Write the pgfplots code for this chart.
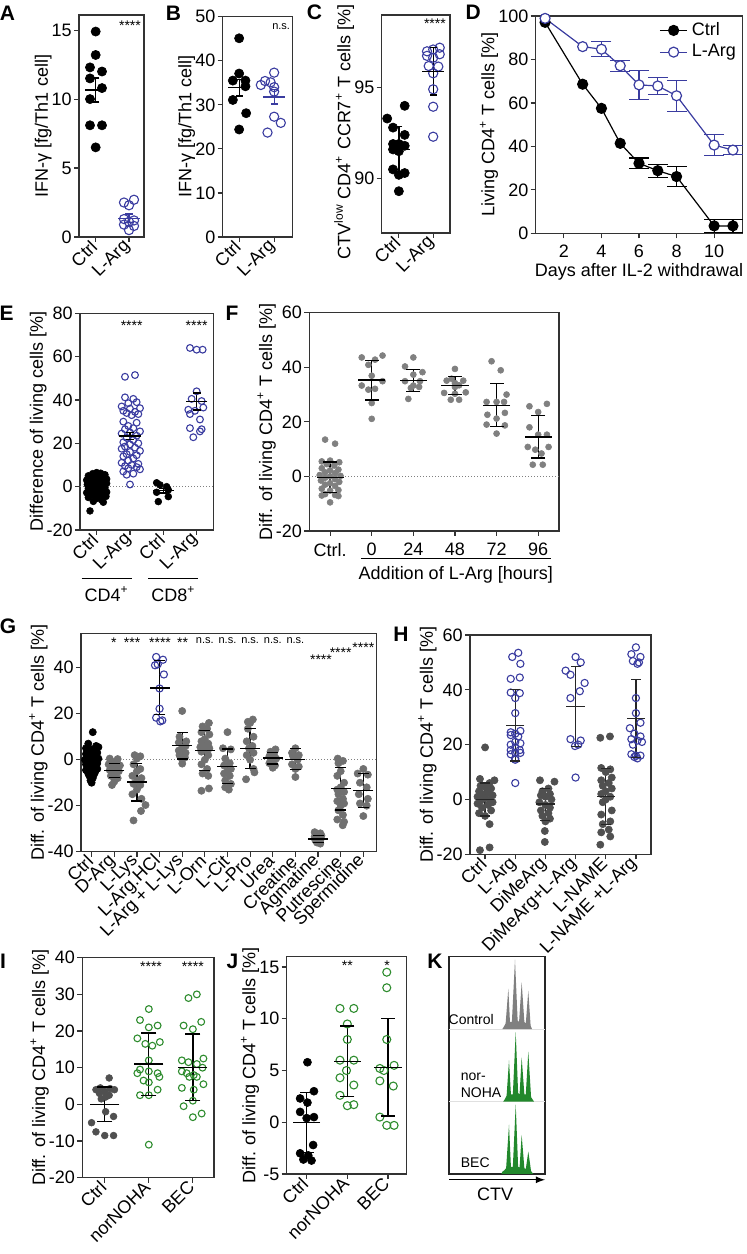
\documentclass[border=0pt]{standalone}
\usepackage{fontspec}
\setmainfont{Liberation Sans}
\usepackage{pgfplots}
\pgfplotsset{compat=1.18}
\definecolor{argblue}{RGB}{58,60,160}
\definecolor{nogreen}{RGB}{46,140,46}
\definecolor{fgray}{RGB}{128,128,128}
\definecolor{ggray}{RGB}{112,112,112}
\definecolor{dgray}{RGB}{80,80,80}
\definecolor{hgreen}{RGB}{34,136,44}
\newcommand{\fs}{\fontsize{9}{10.5}\selectfont}
\newcommand{\sfs}{\fontsize{7}{8}\selectfont}
\newcommand{\nfs}{\fontsize{5.5}{6.5}\selectfont}
\pgfplotsset{
 panel/.style={
   scale only axis, clip=false,
   axis line style={line width=0.6pt, black!80},
   tick style={line width=0.6pt, black!80},
   major tick length=2.5pt, tick align=outside,
   xtick pos=left, ytick pos=left,
   tick label style={font=\fs},
   label style={font=\fs},
   ylabel style={yshift=-4.5pt},
   /pgf/number format/assume math mode=true,
   yticklabel style={inner sep=1pt},
 },
 rot/.style={xticklabel style={rotate=45, anchor=east, inner sep=1pt}},
 dots/.style 2 args={only marks, mark=*, mark size=#2, mark options={draw=#1, fill=#1, line width=0.3pt}},
 rings/.style 2 args={only marks, mark=o, mark size=#2, mark options={draw=#1, fill=none, line width=0.55pt}},
 mbar/.style 2 args={only marks, color=#1, mark=-, mark size=#2, mark options={line width=0.65pt, draw=#1},
   error bars/.cd, y dir=both, y explicit, error mark=none,
   error bar style={line width=0.65pt, draw=#1}},
 caps/.style 2 args={only marks, mark=-, mark size=#2, mark options={line width=0.65pt, draw=#1}},
}
\begin{document}
\begin{tikzpicture}
\useasboundingbox (0,0) rectangle (373pt,627pt);
% panel letters
\begin{scope}[every node/.style={font=\bfseries\fontsize{10.5}{12}\selectfont}]
\node at (3.75pt,620.25pt) {A};
\node at (86.75pt,620.25pt) {B};
\node at (157.25pt,621pt) {C};
\node at (236.65pt,621pt) {D};
\node at (3.35pt,470.35pt) {E};
\node at (116pt,470.5pt) {F};
\node at (4pt,314pt) {G};
\node at (200.5pt,310pt) {H};
\node at (1.5pt,146.5pt) {I};
\node at (116.25pt,146.25pt) {J};
\node at (217.5pt,146.25pt) {K};
\end{scope}

% ---------------- A
\begin{axis}[panel, rot, at={(39.5pt,508.5pt)}, anchor=south west, width=32.5pt, height=111pt,
  xmin=-0.5, xmax=1.45, ymin=0, ymax=16.1, ytick={0,5,10,15},
  xtick={0,1}, xticklabels={Ctrl, L-Arg}, ylabel={IFN-γ [fg/Th1 cell]}]
\addplot[dots={black}{2.3pt}] coordinates {(0,14.9) (0,13.2) (-0.17,12.3) (0.19,12.0) (-0.17,11.5) (0.19,10.8) (-0.17,10.0) (-0.17,8.1) (0.19,8.1) (0,6.5)};
\addplot[rings={argblue}{2.3pt}] coordinates {(0.85,2.5) (1.15,2.7) (1.0,2.3) (0.85,1.3) (1.15,1.2) (1.0,1.1) (0.85,0.9) (1.15,0.8) (1.0,0.5)};
\addplot[mbar={black}{5.4pt}] coordinates {(0,10.66) +- (0,0.87)};
\addplot[caps={black}{1.8pt}] coordinates {(0,11.53) (0,9.79)};
\addplot[mbar={argblue}{5.4pt}] coordinates {(1,1.36) +- (0,0.31)};
\addplot[caps={argblue}{1.8pt}] coordinates {(1,1.67) (1,1.05)};
\node[font=\sfs] at (axis cs:1.03,15.3) {****};
\end{axis}

% ---------------- B
\begin{axis}[panel, rot, at={(111.35pt,508.5pt)}, anchor=south west, width=35pt, height=110.15pt,
  xmin=-0.47, xmax=1.53, ymin=0, ymax=50, ytick={0,10,20,30,40,50},
  xtick={0,1}, xticklabels={Ctrl, L-Arg}, ylabel={IFN-γ [fg/Th1 cell]}]
\addplot[dots={black}{2.3pt}] coordinates {(0,45.1) (0,37.1) (-0.18,35.5) (0.18,35.5) (0.18,34.2) (-0.18,31.1) (0.2,28.1) (0,24.4)};
\addplot[rings={argblue}{2.3pt}] coordinates {(0.62,34.5) (0.74,35.4) (1.0,37.3) (0.9,35.1) (1.0,34.0) (1.0,33.0) (1.0,27.3) (1.19,25.9) (0.81,23.7)};
\addplot[mbar={black}{5.4pt}] coordinates {(0,33.9) +- (0,1.9)};
\addplot[caps={black}{1.8pt}] coordinates {(0,35.8) (0,32.0)};
\addplot[mbar={argblue}{5.4pt}] coordinates {(1,31.8) +- (0,1.6)};
\addplot[caps={argblue}{1.8pt}] coordinates {(1,33.4) (1,30.2)};
\node[font=\nfs] at (axis cs:1.2,47.8) {n.s.};
\end{axis}

% ---------------- C
\begin{axis}[panel, rot, at={(190.85pt,510.5pt)}, anchor=south west, width=34.15pt, height=109pt,
  xmin=-0.5, xmax=1.49, ymin=87, ymax=99, ytick={90,95},
  xtick={0,1}, xticklabels={Ctrl, L-Arg},
  ylabel={CTV\textsuperscript{low} CD4\textsuperscript{+} CCR7\textsuperscript{+} T cells [\%]},
  ylabel style={xshift=-4pt}]
\addplot[dots={black}{2.3pt}] coordinates {(-0.34,93.3) (0.17,94.0) (-0.17,92.8) (0.17,92.4) (-0.17,91.9) (0,91.9) (0.17,91.8) (-0.17,91.6) (0,91.5) (-0.17,90.5) (0.17,90.3) (0,90.2) (0,89.3)};
\addplot[rings={argblue}{2.3pt}] coordinates {(0.82,97.0) (1.0,97.1) (1.19,97.2) (0.82,96.75) (1.0,96.65) (1.19,96.84) (0.87,96.19) (1.15,96.16) (1.0,95.79) (1.0,94.91) (1.0,93.95) (1.0,92.3)};
\addplot[mbar={black}{5.4pt}] coordinates {(0,91.6) +- (0,1.25) (1,95.9) +- (0,1.3)};
\addplot[caps={black}{1.8pt}] coordinates {(0,92.85) (0,90.35) (1,97.2) (1,94.6)};
\node[font=\sfs] at (axis cs:1.05,98.5) {****};
\end{axis}

% ---------------- D
\begin{axis}[panel, at={(267.85pt,510.35pt)}, anchor=south west, width=103.3pt, height=108.65pt,
  xmin=0.5, xmax=11.5, ymin=0, ymax=100, xtick={2,4,6,8,10}, ytick={0,20,40,60,80,100},
  xlabel={Days after IL-2 withdrawal}, ylabel={Living CD4\textsuperscript{+} T cells [\%]},
  xlabel style={yshift=4pt},
  legend style={draw=none, fill=none, at={(1,1)}, anchor=north east, font=\fs, inner sep=1pt, row sep=-1pt},
  legend cell align=left,
  legend image code/.code={\draw[mark repeat=2,mark phase=2] plot coordinates {(0cm,0cm) (0.24cm,0cm) (0.48cm,0cm)};}]
\addplot[only marks, mark=none, forget plot, error bars/.cd, y dir=both, y explicit, error mark=none,
  error bar style={line width=0.6pt, draw=black}]
  coordinates {(6,32.2) +- (0,2.5) (7,28.8) +- (0,3) (8,26.1) +- (0,4.7) (10,3.4) +- (0,3) (11,3.4) +- (0,3)};
\addplot[caps={black}{5pt}, forget plot] coordinates {(6,34.7) (6,29.7) (7,31.8) (7,25.8) (8,30.8) (8,21.4) (10,6.4) (10,0.4) (11,6.4) (11,0.4)};
\addplot[only marks, mark=none, forget plot, error bars/.cd, y dir=both, y explicit, error mark=none,
  error bar style={line width=0.6pt, draw=argblue}]
  coordinates {(4,84.7) +- (0,3.5) (5,77.1) +- (0,2.5) (6,68.3) +- (0,6.7) (7,67.8) +- (0,3.8) (8,63.3) +- (0,7.1) (10,40.6) +- (0,4.8) (11,38.3) +- (0,2)};
\addplot[caps={argblue}{5pt}, forget plot] coordinates {(4,88.2) (4,81.2) (5,79.6) (5,74.6) (6,75.0) (6,61.6) (7,71.6) (7,64.0) (8,70.4) (8,56.2) (10,45.4) (10,35.8) (11,40.3) (11,36.3)};
\addplot[black, line width=0.6pt, mark=*, mark size=2.5pt, mark options={fill=black}] coordinates {(1,97.1) (3,68.6) (4,57.5) (5,41.4) (6,32.2) (7,28.8) (8,26.1) (10,3.4) (11,3.4)};
\addlegendentry{Ctrl}
\addplot[argblue, line width=0.6pt, mark=*, mark size=2.5pt, mark options={fill=white, draw=argblue}] coordinates {(1,98.9) (3,85.9) (4,84.7) (5,77.1) (6,68.3) (7,67.8) (8,63.3) (10,40.6) (11,38.3)};
\addlegendentry{L-Arg}
\end{axis}

% ---------------- E
\begin{axis}[panel, rot, at={(40pt,362pt)}, anchor=south west, width=66.65pt, height=108.35pt,
  xmin=-0.5, xmax=3.5, ymin=-20, ymax=80, ytick={-20,0,20,40,60,80},
  xtick={0,1,2,3}, xticklabels={Ctrl, L-Arg, Ctrl, L-Arg}, ylabel={Difference of living cells [\%]}]
\draw[densely dotted, gray, line width=0.5pt] (axis cs:-0.5,0) -- (axis cs:3.5,0);
\addplot[dots={black}{1.7pt}] coordinates {(0,6.5) (-0.12,6) (0.12,6.2) (0.25,5.5) (-0.25,5) (0,4.8) (0.12,4) (-0.12,3.8) (0.3,3.5) (-0.3,3) (0,2.8) (0.15,2) (-0.15,1.8) (0.3,1.5) (-0.28,1) (0,0.8) (0.12,0.2) (-0.12,0) (0.25,-0.5) (-0.25,-0.8) (0,-1.2) (0.12,-1.8) (-0.12,-2) (0.3,-2.5) (-0.3,-2.8) (0,-3.2) (0.15,-3.8) (-0.15,-4) (0.28,-4.5) (-0.25,-5) (0,-5.5) (0.15,-6.2) (-0.1,-6.8) (0.2,-7.2) (-0.2,-11.2)
 (1.8,1.8) (1.9,0.8) (2.1,0) (2.15,-1.5) (1.8,-2.6) (2.15,-4.6) (1.85,-6.9)};
\addplot[rings={argblue}{1.7pt}] coordinates {(0.85,50.7) (1.15,51.5) (0.85,41.2) (1.1,40.5) (1.2,39) (0.95,38.5) (0.75,37) (1.3,36.2) (1.0,36) (0.8,35) (1.15,34.5) (0.9,34) (1.25,33.5) (1.05,33) (0.8,30) (1.2,29.5) (0.95,28) (1.1,27) (0.85,26.5) (1.3,25.5) (1.0,25) (0.75,24.5) (1.2,23.5) (0.9,22.5) (1.1,21.5) (0.8,20.5) (1.25,20) (1.0,19.5) (0.85,18.5) (1.15,18) (0.75,17.5) (1.3,16.5) (1.0,16) (0.9,15) (1.2,14.5) (0.8,14) (1.1,13) (0.95,12) (0.75,11) (1.25,10.5) (1.05,10) (0.85,9.5) (1.2,9) (0.95,8.5) (1.3,8) (0.8,7) (1.1,6) (0.9,5.5) (1.0,1)
 (2.8,64) (3.0,63.2) (3.18,63.2) (3.0,44) (2.85,40.5) (3.15,39.5) (3.2,36.5) (2.75,35.5) (2.95,35) (2.8,33.5) (3.1,31) (2.8,27) (3.15,26.5) (3.1,25.5) (2.9,22.8)};
\addplot[mbar={black}{5.4pt}] coordinates {(0,0) +- (0,0.9) (1,23.4) +- (0,1.7) (2,-1.85) +- (0,1.1) (3,39.3) +- (0,3.9)};
\addplot[caps={black}{2pt}] coordinates {(0,0.9) (0,-0.9) (1,25.1) (1,21.7) (2,-0.75) (2,-2.95) (3,43.2) (3,35.4)};
\node[font=\sfs] at (axis cs:1.05,74.5) {****};
\node[font=\sfs] at (axis cs:3.0,74.5) {****};
\draw[line width=0.6pt] (axis cs:-0.45,-42.5) -- (axis cs:1.05,-42.5);
\draw[line width=0.6pt] (axis cs:1.55,-42.5) -- (axis cs:3.05,-42.5);
\node[font=\fs, anchor=north] at (axis cs:0.3,-43) {CD4\textsuperscript{+}};
\node[font=\fs, anchor=north] at (axis cs:2.3,-43) {CD8\textsuperscript{+}};
\end{axis}

% ---------------- F
\begin{axis}[panel, at={(154.65pt,361.5pt)}, anchor=south west, width=124.85pt, height=109.15pt,
  xmin=-0.5, xmax=5.5, ymin=-20, ymax=60, ytick={-20,0,20,40,60},
  xtick={0,1,2,3,4,5}, xticklabels={Ctrl., 0, 24, 48, 72, 96},
  ylabel={Diff. of living CD4\textsuperscript{+} T cells [\%]}]
\draw[densely dotted, gray, line width=0.5pt] (axis cs:-0.5,0) -- (axis cs:5.5,0);
\addplot[dots={fgray}{1.5pt}] coordinates {(-0.12,13.5) (0.12,12) (0,5.8) (-0.2,5.5) (0.22,5.2) (-0.08,4.5) (0.1,4) (-0.2,3) (0.2,2.5) (0,2.2) (-0.12,1.5) (0.12,1.2) (-0.25,0.5) (0.25,0.2) (0,0) (-0.12,-0.5) (0.12,-1) (-0.22,-1.5) (0.22,-2) (0,-2.5) (-0.12,-3) (0.12,-3.5) (-0.2,-4.5) (0.2,-5) (0,-5.2) (-0.12,-6.5) (0.12,-6.8) (-0.2,-7) (0.2,-7.2) (0,-9.5)
 (0.76,43.6) (1.26,44.3) (1.08,42.8) (0.92,40.9) (1.0,36.9) (0.76,33.3) (1.08,32.1) (0.92,31.8) (1.26,34.9) (1.0,26.9) (1.0,21.1)
 (2.0,43.6) (1.8,40.3) (2.22,38.2) (2.0,37.3) (1.8,34.9) (2.16,34.9) (2.0,33.3) (1.94,32.4) (2.14,32.8) (1.88,28.4)
 (3.0,39.4) (2.8,35.1) (3.2,35.1) (3.0,34.2) (2.92,35.8) (3.1,33.4) (2.74,30.6) (3.0,30.3) (3.26,30.8) (2.9,28.1) (3.1,28.1) (3.0,32.8)
 (3.88,42.2) (4.1,38.9) (4.24,30.0) (3.76,27.3) (4.0,27.3) (4.18,27.3) (3.78,22.6) (4.0,21.2) (4.2,23.3) (3.76,19.0) (4.2,18.7) (4.0,15.7)
 (4.79,25.7) (5.21,26.6) (5.0,23.6) (4.79,18.0) (5.0,15.3) (5.21,15.3) (4.75,10.8) (5.25,10.8) (4.93,9.8) (5.08,8.4) (4.87,4.3) (5.11,4.3)};
\addplot[mbar={black}{6.8pt}] coordinates {(0,-0.3) +- (0,5.6) (1,35.3) +- (0,7.3) (2,35.2) +- (0,4.1) (3,33.2) +- (0,3.3) (4,26.1) +- (0,7.9) (5,14.5) +- (0,7.7)};
\addplot[caps={black}{3.5pt}] coordinates {(0,5.3) (0,-5.9) (1,42.6) (1,28.0) (2,39.3) (2,31.1) (3,36.5) (3,29.9) (4,34.0) (4,18.2) (5,22.2) (5,6.8)};
\draw[line width=0.6pt] (axis cs:0.74,-30) -- (axis cs:5.32,-30);
\node[font=\fs, anchor=north] at (axis cs:3.02,-30.4) {Addition of L-Arg [hours]};
\end{axis}

% ---------------- G
\begin{axis}[panel, rot, at={(40.5pt,201.15pt)}, anchor=south west, width=147.85pt, height=109.2pt,
  xmin=-0.47, xmax=12.59, ymin=-40, ymax=55, ytick={-40,-20,0,20,40},
  xtick={0,...,12}, xticklabels={Ctrl, D-Arg, L-Lys, L-Arg.HCl, L-Arg + L-Lys, L-Orn, L-Cit, L-Pro, Urea, Creatine, Agmatine, Putrescine, Spermidine},
  ylabel={Diff. of living CD4\textsuperscript{+} T cells [\%]}]
\draw[densely dotted, gray, line width=0.5pt] (axis cs:-0.47,0) -- (axis cs:12.59,0);
\addplot[dots={black}{1.8pt}] coordinates {(0.05,12) (-0.15,7) (0.2,6) (0.3,5.5) (-0.25,5) (0,4.5) (0.15,4) (-0.15,3.5) (0.25,3) (-0.25,2.5) (0,2) (0.15,1.5) (-0.15,1) (0.3,0.5) (-0.3,0) (0,0) (0.15,-0.5) (-0.15,-1) (0.25,-1.5) (-0.25,-2) (0,-2.5) (0.15,-3) (-0.15,-3.5) (0.25,-4) (-0.25,-4.5) (0,-5) (0.15,-5.5) (-0.15,-6) (0.1,-6.5) (-0.1,-7) (0.05,-8) (-0.05,-9) (0,-10)};
\addplot[dots={ggray}{1.8pt}] coordinates {(0.8,0.5) (1.15,0.3) (1.0,-1) (0.75,-2) (1.25,-2.5) (0.9,-3) (1.1,-3.5) (0.8,-4.5) (1.2,-5) (1.0,-6) (0.85,-7) (1.15,-8) (1.0,-9.5) (0.9,-11)
 (1.9,2) (2.15,1.5) (2.0,0.5) (1.85,-2) (2.15,-4) (2.0,-5) (1.8,-7) (2.2,-8) (2.0,-9) (1.85,-10.5) (2.15,-11) (2.0,-13) (1.8,-15) (2.2,-17) (2.38,-19.7) (2.18,-22.3) (1.85,-26.4)
 (4.0,21.2) (3.88,10) (4.18,8) (3.85,7.5) (4.15,6) (4.0,5) (3.85,4) (4.15,3) (3.88,2) (4.12,1) (4.0,0) (4.0,-1.7)
 (5.18,16) (4.9,14.5) (5.1,13.5) (4.85,12) (5.2,11) (5.0,9) (4.85,8) (5.15,7) (5.0,6) (4.8,5.5) (5.2,5) (5.0,4.5) (4.85,3.5) (5.15,2) (5.0,0) (4.85,-2) (5.1,-4) (4.9,-6) (5.15,-7) (5.18,-12.5) (4.85,-13.5)
 (6.0,12) (5.8,5) (6.15,4.5) (5.9,0.5) (6.1,-1.5) (5.85,-2.5) (6.15,-4) (6.0,-5) (5.85,-6) (6.1,-7) (5.9,-9) (6.15,-10.5) (5.9,-12) (6.06,-13)
 (7.12,17.5) (6.9,16.5) (7.0,16) (6.9,13.5) (7.15,10) (6.85,8) (7.1,6) (6.95,5) (7.15,3) (6.85,2) (7.0,0) (7.15,-4) (7.19,-5.5) (6.82,-8.5)
 (8.12,4.5) (7.9,3.5) (8.05,2.5) (7.85,1.5) (8.15,0.5) (8.0,-0.5) (7.85,-1.5) (8.1,-2.5) (8.0,-3.5)
 (9.0,5) (8.85,3) (9.15,2) (8.9,1.5) (9.1,0) (8.85,-2) (9.15,-3) (9.0,-4) (9.0,-7.5)
 (9.85,-31.5) (10.1,-32) (9.95,-32.5) (10.15,-33) (9.85,-33.5) (10.0,-34) (10.12,-34.5) (9.88,-35) (10.05,-35.5) (9.95,-36) (10.1,-36.5)
 (10.87,0.5) (11.1,-0.5) (10.9,-1.5) (11.0,-5) (10.85,-7) (11.15,-10) (11.0,-12) (10.85,-13) (11.15,-14) (10.9,-15) (11.1,-17) (10.85,-18) (11.15,-19) (11.0,-20) (10.9,-22) (11.1,-24) (10.85,-26) (11.15,-27) (11.09,-28.5)
 (12.0,-4) (11.75,-6) (12.2,-6.5) (11.85,-10) (12.15,-12) (11.8,-15) (12.2,-17) (11.85,-19) (12.15,-20) (12.0,-24.5)};
\addplot[rings={argblue}{1.8pt}] coordinates {(2.85,44.7) (3.15,43.5) (2.92,41.5) (2.8,41.1) (3.19,37.1) (3.0,31.0) (3.0,22.2) (2.85,18.3) (3.12,17.1) (3.03,16.7)};
\addplot[mbar={black}{5pt}] coordinates {(0,0) +- (0,5) (1,-4.6) +- (0,3) (2,-9.7) +- (0,8.2) (3,31.2) += (0,12.1) -= (0,11.5) (4,6.1) +- (0,5.8) (5,4.1) +- (0,8.7) (6,-2.8) +- (0,7.5) (7,4.8) +- (0,8.7) (8,0.7) +- (0,2.6) (9,0) += (0,4.8) -= (0,4.2) (10,-34.5) +- (0,1.5) (11,-12.6) +- (0,9.3) (12,-13.4) +- (0,7.4)};
\addplot[caps={black}{2.75pt}] coordinates {(0,5) (0,-5) (1,-1.6) (1,-7.6) (2,-1.5) (2,-17.9) (3,43.3) (3,19.7) (4,11.9) (4,0.3) (5,12.8) (5,-4.6) (6,4.7) (6,-10.3) (7,13.5) (7,-3.9) (8,3.3) (8,-1.9) (9,4.8) (9,-4.2) (10,-33) (10,-36) (11,-3.3) (11,-21.9) (12,-6) (12,-20.8)};
\begin{scope}[every node/.style={font=\sfs}]
\node at (axis cs:0.98,50.8) {*};
\node at (axis cs:1.79,50.8) {***};
\node at (axis cs:3.02,50.8) {****};
\node at (axis cs:4.02,50.8) {**};
\node[font=\nfs] at (axis cs:5,52) {n.s.};
\node[font=\nfs] at (axis cs:6,52) {n.s.};
\node[font=\nfs] at (axis cs:7,52) {n.s.};
\node[font=\nfs] at (axis cs:8,52) {n.s.};
\node[font=\nfs] at (axis cs:9,52) {n.s.};
\node at (axis cs:10.13,43.6) {****};
\node at (axis cs:11.0,46.5) {****};
\node at (axis cs:12.0,48.8) {****};
\end{scope}
\end{axis}

% ---------------- H
\begin{axis}[panel, rot, at={(235pt,199.85pt)}, anchor=south west, width=90.5pt, height=109.65pt,
  xmin=-0.5, xmax=5.5, ymin=-20, ymax=60, ytick={-20,0,20,40,60},
  xtick={0,...,5}, xticklabels={Ctrl, L-Arg, DiMeArg, DiMeArg+L-Arg, L-NAME, L-NAME +L-Arg},
  ylabel={Diff. of living CD4\textsuperscript{+} T cells [\%]}]
\addplot[dots={dgray}{1.8pt}] coordinates {(0,19) (-0.17,7.5) (0.31,7) (0.15,6) (-0.15,5) (0,4.5) (0.2,4) (-0.2,3) (0.1,2.5) (-0.1,2) (0.25,1.5) (-0.25,1) (0,0.5) (0.15,0) (-0.15,-0.5) (0.25,-1) (-0.25,-1.5) (0.1,-2) (-0.1,-3) (0.2,-4) (-0.2,-5) (0,-6) (0.15,-9) (0.15,-17.5) (-0.17,-18.5)
 (1.82,7) (2.3,6.5) (2.1,4) (1.9,3) (2.15,2) (1.85,1.5) (2.0,1) (2.2,0) (1.8,-1) (2.0,-2) (2.15,-3) (1.85,-4) (2.1,-5) (1.9,-6) (2.15,-7) (2.0,-8) (1.98,-11.5) (1.98,-15.5)
 (3.82,22.5) (4.14,23) (3.85,11.5) (4.15,11) (4.0,10) (4.2,8) (3.85,7) (4.1,6) (3.9,5) (4.2,4) (4.0,3) (3.85,2) (4.15,1) (4.0,0) (3.9,-1) (4.2,-4) (3.85,-5.5) (4.15,-8) (3.9,-9) (4.1,-11) (3.85,-12) (4.15,-13.5) (3.82,-16.5)};
\addplot[rings={argblue}{1.8pt}] coordinates {(1.1,53.5) (0.9,52) (1.17,49.5) (0.85,44) (1.15,44.5) (0.85,39) (1.15,38.8) (1.0,37) (1.0,31.5) (0.85,24.5) (1.17,25) (1.0,24) (0.85,23.5) (1.1,23) (1.0,21) (0.85,20) (1.17,20.5) (1.0,19) (0.85,18) (1.15,18) (1.0,17) (0.85,16.5) (1.17,17) (1.0,15) (1.0,14.5) (1.0,6)
 (3.0,52) (3.17,50) (2.67,47) (2.83,45.5) (3.3,42.5) (3.14,39.5) (2.83,37) (2.83,22) (3.17,21.5) (3.09,20) (2.98,19.5) (3.0,8)
 (5.0,55.5) (4.85,53) (5.15,52) (4.9,50.5) (5.1,50) (5.05,49.5) (5.0,37) (5.0,31.5) (5.15,28) (4.8,26) (4.95,24) (5.15,23) (4.85,22) (5.05,21.5) (5.2,21) (4.9,20) (4.85,16.5) (5.0,16) (5.15,16) (4.95,15.5) (5.05,15)};
\addplot[mbar={black!85}{4.6pt}] coordinates {(0,0) +- (0,6) (1,27.1) +- (0,13.1) (2,-1.6) += (0,5.5) -= (0,6.1) (3,33.8) +- (0,14.6) (4,1.0) +- (0,10.2) (5,29.5) +- (0,14.3)};
\addplot[caps={black!85}{2.5pt}] coordinates {(0,6) (0,-6) (1,40.2) (1,14.0) (2,3.9) (2,-7.7) (3,48.4) (3,19.2) (4,11.2) (4,-9.2) (5,43.8) (5,15.2)};
\end{axis}

% ---------------- I
\begin{axis}[panel, rot, at={(41.15pt,38.15pt)}, anchor=south west, width=65.85pt, height=110pt,
  xmin=-0.51, xmax=2.48, ymin=-20, ymax=40, ytick={-20,-10,0,10,20,30,40},
  xtick={0,1,2}, xticklabels={Ctrl, norNOHA, BEC},
  ylabel={Diff. of living CD4\textsuperscript{+} T cells [\%]}]
\addplot[dots={dgray}{1.7pt}] coordinates {(0.1,7.2) (-0.1,4.5) (0.12,4.3) (0.22,4) (-0.2,4) (0,3.5) (-0.12,3) (0.1,2.5) (0.02,2) (-0.08,1.5) (0.02,-2) (0.2,-3.3) (-0.3,-5) (-0.2,-7.5) (0,-8.5) (0.2,-8.5)};
\addplot[rings={nogreen}{1.7pt}] coordinates {(1.0,26) (0.8,23) (1.0,21) (1.2,21.5) (0.74,18) (1.25,17) (0.92,16.5) (1.08,16) (1.0,12) (0.8,9.5) (1.0,9) (1.2,8.5) (0.74,8.5) (1.24,7.5) (0.88,6.5) (1.0,6) (1.2,4) (0.8,2.5) (1.0,2.5) (1.0,-11)
 (2.09,30) (1.9,29) (2.19,22.5) (1.79,21.5) (2.0,20.5) (2.24,12.5) (1.75,12) (1.9,11.5) (2.09,11) (2.22,10) (1.75,9) (1.86,8.5) (2.02,8) (1.92,7.5) (2.09,7.5) (2.24,5.5) (1.75,4.5) (2.02,4) (2.0,1) (1.79,-0.5) (2.2,-2.5) (2.0,-3.5)};
\addplot[mbar={black}{7.3pt}] coordinates {(0,0) +- (0,4.7) (1,11) +- (0,8.5) (2,10.1) +- (0,9.1)};
\addplot[caps={black}{3.75pt}] coordinates {(0,4.7) (0,-4.7) (1,19.5) (1,2.5) (2,19.2) (2,1.0)};
\node[font=\sfs] at (axis cs:1.05,37.6) {****};
\node[font=\sfs] at (axis cs:2.0,37.6) {****};
\end{axis}

% ---------------- J
\begin{axis}[panel, rot, at={(143.35pt,40pt)}, anchor=south west, width=60pt, height=108.65pt,
  xmin=-0.49, xmax=2.46, ymin=-5, ymax=16, ytick={-5,0,5,10,15},
  xtick={0,1,2}, xticklabels={Ctrl, norNOHA, BEC},
  ylabel={Diff. of living CD4\textsuperscript{+} T cells [\%]}]
\addplot[dots={black}{2pt}] coordinates {(0.02,5.8) (0.18,3.0) (-0.16,2.3) (0.02,1.9) (-0.16,1.0) (0.18,0.5) (0.0,0.4) (0.16,-2.2) (-0.16,-3.0) (0.04,-3.2) (-0.08,-3.6) (0.12,-3.7)};
\addplot[rings={nogreen}{2pt}] coordinates {(0.82,11) (1.16,11) (1.0,9.5) (1.0,8) (0.82,6) (1.16,6) (0.98,5) (0.82,4.3) (1.16,3.6) (0.82,2.6) (1.0,1.6) (1.16,1.7)
 (1.97,14.5) (1.97,13) (1.97,8) (2.15,5.5) (1.8,5.2) (1.9,5) (1.8,4) (2.13,3.5) (1.8,0.5) (1.97,-0.3) (2.15,-0.3)};
\addplot[mbar={black}{6.8pt}] coordinates {(0,0) +- (0,2.9) (1,5.9) +- (0,3.4) (2,5.3) +- (0,4.7)};
\addplot[caps={black}{3.5pt}] coordinates {(0,2.9) (0,-2.9) (1,9.3) (1,2.5) (2,10.0) (2,0.6)};
\node[font=\sfs] at (axis cs:1.0,15.1) {**};
\node[font=\sfs] at (axis cs:1.98,15.1) {*};
\end{axis}

% ---------------- K
\begin{axis}[scale only axis, clip=false, at={(224.5pt,40pt)}, anchor=south west, width=48pt, height=108.65pt,
  xmin=0, xmax=100, ymin=0, ymax=3, xtick=\empty, ytick=\empty,
  axis line style={line width=0.6pt, black!85}]
\draw[black!12, line width=0.5pt] (axis cs:0,1) -- (axis cs:100,1);
\draw[black!12, line width=0.5pt] (axis cs:0,2) -- (axis cs:100,2);
\addplot[fill=fgray, draw=none] coordinates {(55.5,2) (57,2.03) (59,2.08) (61.8,2.56) (63.5,2.1) (65.5,2.1) (68.75,2.96) (71.5,2.12) (73,2.1) (75.7,2.65) (78.5,2.1) (80,2.08) (82.6,2.53) (85,2.05) (86.5,2)};
\addplot[fill=hgreen, draw=none] coordinates {(56.5,1) (58,1.03) (60,1.08) (62.5,1.57) (64.5,1.1) (66.5,1.1) (69.5,1.96) (72,1.12) (73.5,1.1) (75.7,1.61) (78.5,1.1) (80,1.1) (82.6,1.69) (85.5,1.06) (88.5,1)};
\addplot[fill=hgreen, draw=none] coordinates {(54.5,0) (55.5,0.03) (57.5,0.05) (59.5,0.08) (62.5,0.68) (64.5,0.1) (66.5,0.1) (69.5,0.96) (72,0.1) (73.5,0.09) (75.7,0.54) (78.5,0.08) (80,0.07) (82.6,0.31) (85.5,0.04) (87.8,0)};
\node[font=\fontsize{7}{8}\selectfont, anchor=east] at (axis cs:54,2.13) {Control};
\node[font=\fontsize{7}{8.5}\selectfont, anchor=west, align=left] at (axis cs:5,1.23) {nor-\\NOHA};
\node[font=\fontsize{7}{8}\selectfont, anchor=west] at (axis cs:5,0.15) {BEC};
\draw[-latex, line width=0.6pt] (axis cs:0,-0.08) -- (axis cs:100,-0.08);
\node[font=\fs, anchor=north] at (axis cs:48,-0.1) {CTV};
\end{axis}
\end{tikzpicture}
\end{document}
